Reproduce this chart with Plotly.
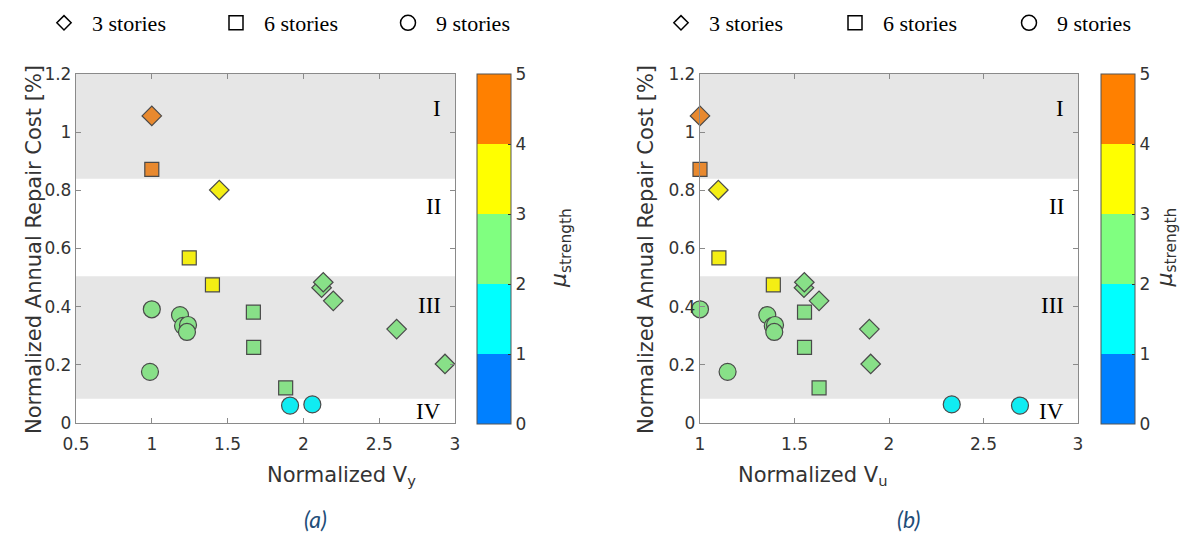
import plotly.graph_objects as go

# ---- data: normalized annual repair cost [%], normalized Vy / Vu, strength ductility ----
cost_3 = [1.056, 0.801, 0.465, 0.484, 0.420, 0.323, 0.203]
vy_3 = [1.000, 1.445, 2.120, 2.131, 2.197, 2.615, 2.934]
vu_3 = [1.000, 1.097, 1.550, 1.552, 1.630, 1.896, 1.903]
mu_3 = [4.4, 3.5, 2.6, 2.6, 2.5, 2.3, 2.2]

cost_6 = [0.872, 0.568, 0.475, 0.381, 0.260, 0.121]
vy_6 = [1.000, 1.247, 1.400, 1.670, 1.672, 1.883]
vu_6 = [1.000, 1.100, 1.388, 1.553, 1.553, 1.630]
mu_6 = [4.3, 3.6, 3.1, 2.5, 2.4, 2.2]

cost_9 = [0.391, 0.371, 0.334, 0.337, 0.313, 0.176, 0.064, 0.060]
vy_9 = [1.000, 1.186, 1.206, 1.239, 1.232, 0.988, 2.059, 1.912]
vu_9 = [1.000, 1.356, 1.385, 1.397, 1.393, 1.146, 2.332, 2.693]
mu_9 = [2.8, 2.6, 2.5, 2.5, 2.4, 2.7, 1.6, 1.5]

story_names = ["3 stories", "6 stories", "9 stories"]

# performance regions (shaded bands and their labels)
band_I = [0.84, 1.2]
band_III = [0.083, 0.505]
region_names = ["I", "II", "III", "IV"]
region_label_y = [1.08, 0.745, 0.405, 0.04]

mu_ticks = [0, 1, 2, 3, 4, 5]
y_ticks = [0, 0.2, 0.4, 0.6, 0.8, 1.0, 1.2]

# ---- styling ----
SANS = "DejaVu Sans"
SERIF = "Liberation Serif"
TXT = "#333333"
AXC = "#8a8a8a"

bar_colors = ["#0080FF", "#00FFFF", "#80FF80", "#FFFF00", "#FF8000"]
mark_colors = ["#1A80EE", "#10ECF2", "#88E088", "#F4EE14", "#E8892F"]


def discrete_scale(cols):
    n = len(cols)
    scale = []
    for i, c in enumerate(cols):
        scale.append([i / n, c])
        scale.append([(i + 1) / n, c])
    return scale


bar_scale = discrete_scale(bar_colors)
mark_scale = discrete_scale(mark_colors)

groups = [
    (vy_3, vu_3, cost_3, mu_3, "diamond", 15),
    (vy_6, vu_6, cost_6, mu_6, "square", 14),
    (vy_9, vu_9, cost_9, mu_9, "circle", 17),
]

fig = go.Figure()

panels = [("x", "y", 0), ("x2", "y2", 1)]
for xa, ya, p in panels:
    for vy, vu, cost, mu, sym, size in groups:
        fig.add_trace(go.Scatter(
            x=vy if p == 0 else vu, y=cost, xaxis=xa, yaxis=ya,
            mode="markers", showlegend=False, cliponaxis=False, hoverinfo="skip",
            marker=dict(symbol=sym, size=size, color=mu, colorscale=mark_scale,
                        cmin=0, cmax=5, line=dict(color="#4a4a4a", width=1.2)),
        ))

# legend entries (open black symbols)
legend_syms = [("diamond-open", 11), ("square-open", 14), ("circle-open", 15)]
for xa, ya, p in panels:
    for name, (sym, size) in zip(story_names, legend_syms):
        fig.add_trace(go.Scatter(
            x=[None], y=[None], xaxis=xa, yaxis=ya, mode="markers", name=name,
            legend="legend" if p == 0 else "legend2",
            marker=dict(symbol=sym, size=size, color="black", line=dict(width=1.5)),
        ))

# colorbars for the strength ductility
cbar_x = [477 / 1199, 1101 / 1199]
for xa, ya, p in panels:
    fig.add_trace(go.Scatter(
        x=[None], y=[None], xaxis=xa, yaxis=ya, mode="markers", showlegend=False,
        hoverinfo="skip",
        marker=dict(color=[mu_ticks[0]], colorscale=bar_scale, cmin=mu_ticks[0],
                    cmax=mu_ticks[-1], showscale=True,
                    colorbar=dict(
                        x=cbar_x[p], xanchor="left", xpad=0, y=1 - 74 / 537,
                        yanchor="top", ypad=0, len=350 / 537, lenmode="fraction",
                        thickness=34, thicknessmode="pixels",
                        outlinecolor="#555555", outlinewidth=1,
                        tickvals=mu_ticks, ticks="inside", ticklen=3,
                        tickcolor="#333333",
                        tickfont=dict(family=SANS, size=17, color=TXT),
                    )),
    ))

axis_common = dict(
    showgrid=False, zeroline=False, showline=True, linecolor=AXC, linewidth=1.3,
    mirror="ticks", ticks="inside", ticklen=5, tickcolor=AXC, automargin=False,
    tickfont=dict(family=SANS, size=17, color=TXT),
)

dom_y = [1 - 423 / 537, 1 - 74 / 537]
fig.update_layout(
    width=1199, height=537,
    margin=dict(l=0, r=0, t=0, b=0, autoexpand=False),
    paper_bgcolor="white", plot_bgcolor="white",
    xaxis=dict(domain=[76 / 1199, 455 / 1199], range=[0.5, 3], dtick=0.5,
               anchor="y", ticklabelstandoff=5, **axis_common),
    yaxis=dict(domain=dom_y, range=[0, 1.2], tickvals=y_ticks, anchor="x",
               **axis_common),
    xaxis2=dict(domain=[700 / 1199, 1078 / 1199], range=[1, 3], dtick=0.5,
                anchor="y2", ticklabelstandoff=5, **axis_common),
    yaxis2=dict(domain=dom_y, range=[0, 1.2], tickvals=y_ticks, anchor="x2",
                **axis_common),
    legend=dict(orientation="h", x=36 / 1199, xanchor="left", y=1 - 23 / 537,
                yanchor="middle", itemwidth=46, entrywidth=111,
                entrywidthmode="pixels", bgcolor="rgba(0,0,0,0)",
                font=dict(family=SERIF, size=22, color="black")),
    legend2=dict(orientation="h", x=653 / 1199, xanchor="left", y=1 - 23 / 537,
                 yanchor="middle", itemwidth=46, entrywidth=113,
                 entrywidthmode="pixels", bgcolor="rgba(0,0,0,0)",
                 font=dict(family=SERIF, size=22, color="black")),
)

# shaded bands for regions I and III
for xr, yr in [("x domain", "y"), ("x2 domain", "y2")]:
    for lo, hi in (band_I, band_III):
        fig.add_shape(type="rect", xref=xr, yref=yr, x0=0, x1=1, y0=lo, y1=hi,
                      fillcolor="#E6E6E6", line=dict(width=0), layer="below")
    for name, yv in zip(region_names, region_label_y):
        fig.add_annotation(text=name, xref=xr, yref=yr, x=0.968, y=yv,
                           xanchor="right", yanchor="middle", showarrow=False,
                           font=dict(family=SERIF, size=23, color="black"))

# axis titles, colorbar titles and panel captions
ytitle = "Normalized Annual Repair Cost [%]"
for xp in (20 / 1199, 646 / 1199):
    fig.add_annotation(text=ytitle, xref="paper", yref="paper", x=xp,
                       y=1 - 250 / 537, textangle=-90, showarrow=False,
                       font=dict(family=SANS, size=21, color=TXT))
for xp, lab in ((265 / 1199, "Normalized V<sub>y</sub>"),
                (889 / 1199, "Normalized V<sub>u</sub>")):
    fig.add_annotation(text=lab, xref="paper", yref="paper", x=xp,
                       y=1 - 476 / 537, yanchor="middle", showarrow=False,
                       font=dict(family=SANS, size=21, color=TXT))
for xp in (561 / 1199, 1183 / 1199):
    fig.add_annotation(text="<i>μ</i><sub>strength</sub>", xref="paper",
                       yref="paper", x=xp, y=1 - 248 / 537, textangle=-90,
                       showarrow=False, font=dict(family=SANS, size=22, color=TXT))
for xp, lab in ((302 / 1199, "(a)"), (922 / 1199, "(b)")):
    fig.add_annotation(text=f"<i>{lab}</i>", xref="paper", yref="paper", x=xp,
                       y=1 - 519 / 537, yanchor="middle", showarrow=False,
                       font=dict(family="Lato", size=23, color="#1F4E79"))

fig.write_html("out.html")
